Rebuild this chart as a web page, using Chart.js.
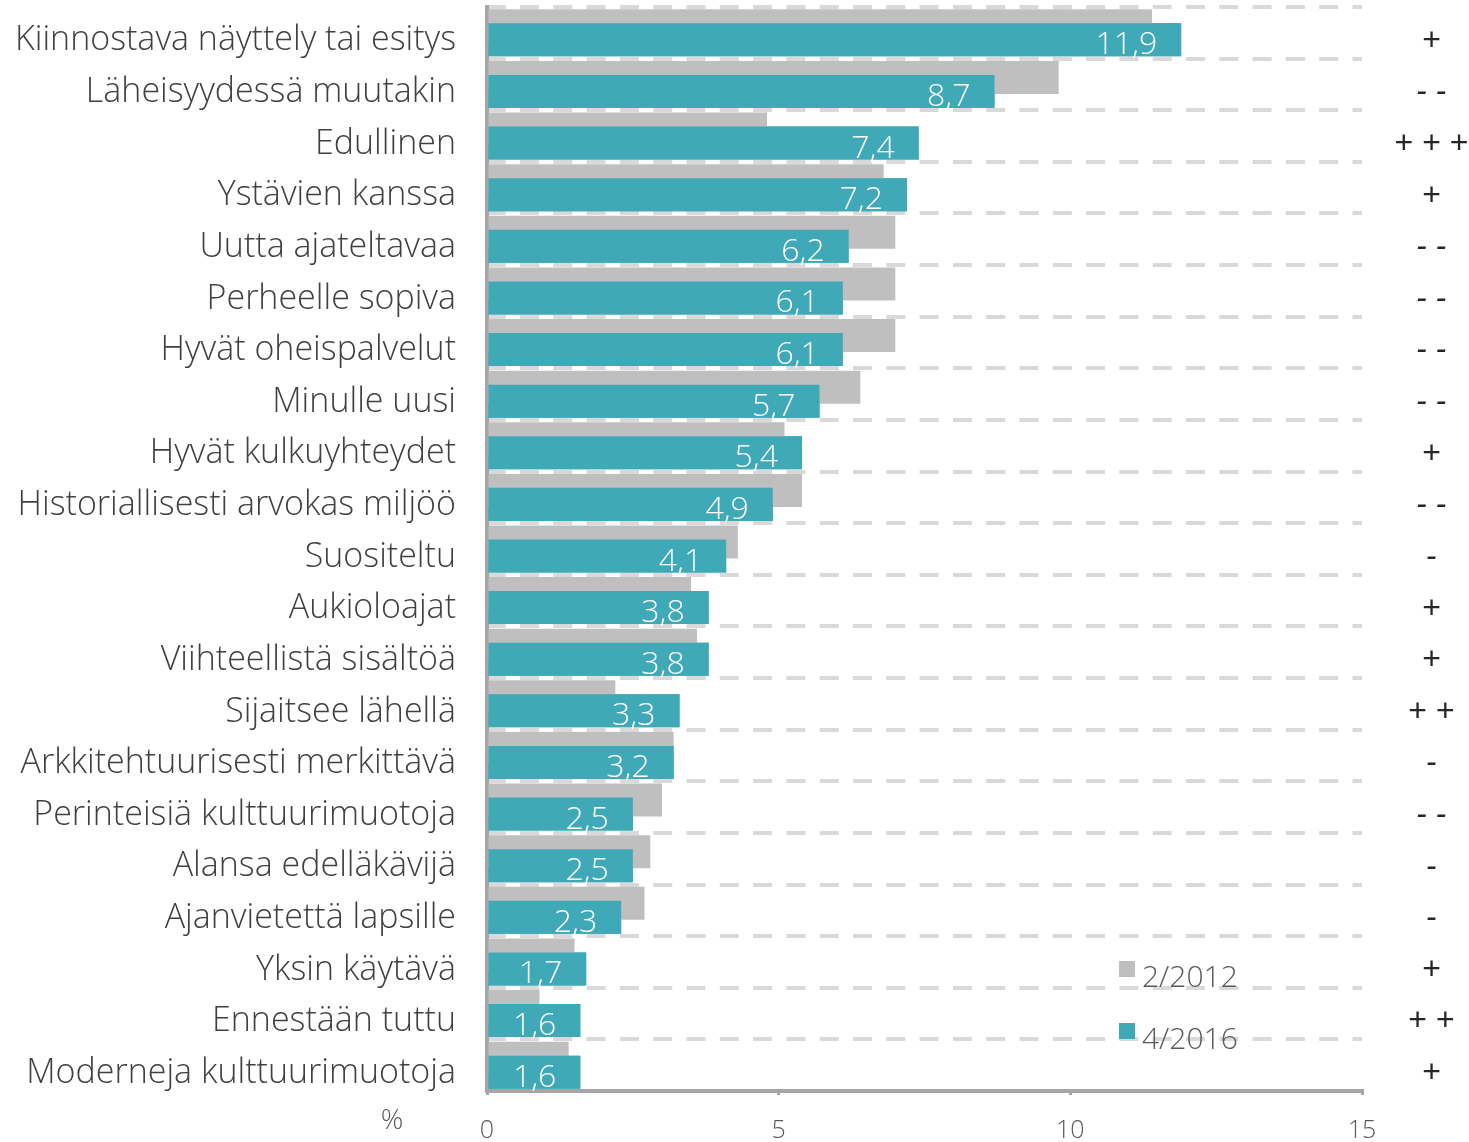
<!DOCTYPE html>
<html>
<head>
<meta charset="utf-8">
<script src="https://cdn.jsdelivr.net/npm/chart.js@4.4.1/dist/chart.umd.min.js"></script>
<style>
  html, body { margin: 0; padding: 0; background: #fff; }
  #wrap { width: 1469px; height: 1142px; }
</style>
</head>
<body>
<div id="wrap"><canvas id="chart"></canvas></div>
<script>
// DATA
const categories = [
  "Kiinnostava näyttely tai esitys",
  "Läheisyydessä muutakin",
  "Edullinen",
  "Ystävien kanssa",
  "Uutta ajateltavaa",
  "Perheelle sopiva",
  "Hyvät oheispalvelut",
  "Minulle uusi",
  "Hyvät kulkuyhteydet",
  "Historiallisesti arvokas miljöö",
  "Suositeltu",
  "Aukioloajat",
  "Viihteellistä sisältöä",
  "Sijaitsee lähellä",
  "Arkkitehtuurisesti merkittävä",
  "Perinteisiä kulttuurimuotoja",
  "Alansa edelläkävijä",
  "Ajanvietettä lapsille",
  "Yksin käytävä",
  "Ennestään tuttu",
  "Moderneja kulttuurimuotoja",
];

const values2012 = [
  11.4, 9.8, 4.8, 6.8, 7.0, 7.0, 7.0, 6.4, 5.1, 5.4, 4.3, 3.5, 3.6, 2.2, 3.2,
  3.0, 2.8, 2.7, 1.5, 0.9, 1.4,
];

const values2016 = [
  11.9, 8.7, 7.4, 7.2, 6.2, 6.1, 6.1, 5.7, 5.4, 4.9, 4.1, 3.8, 3.8, 3.3, 3.2,
  2.5, 2.5, 2.3, 1.7, 1.6, 1.6,
];

const changeSigns = [
  "+", "- -", "+ + +", "+", "- -", "- -", "- -", "- -", "+", "- -", "-",
  "+", "+", "+ +", "-", "- -", "-", "-", "+", "+ +", "+",
];

const seriesNames = ["2/2012", "4/2016"];
const xTicks = [0, 5, 10, 15];
const unitLabel = "%";

const FONT = "'Open Sans', 'Noto Sans', sans-serif";
const GRAY = "#bfbfbf";
const TEAL = "#3fa9b8";

// extra drawing: teal in front, value labels, signs, legend
const extras = {
  id: "extras",
  afterDatasetsDraw(chart) {
    const ctx = chart.ctx;
    const area = chart.chartArea;
    const yScale = chart.scales.y;
    const front = chart.getDatasetMeta(1);

    ctx.save();
    front.data.forEach((bar) => bar.draw(ctx));

    // value labels
    ctx.fillStyle = "#ffffff";
    ctx.font = "300 32px " + FONT;
    ctx.textAlign = "right";
    ctx.textBaseline = "alphabetic";
    front.data.forEach((bar, i) => {
      const p = bar.getProps(["x", "y", "height"], true);
      const txt = values2016[i].toFixed(1).replace(".", ",");
      ctx.fillText(txt, p.x - 24, p.y + p.height / 2 - 2);
    });

    // change signs on the right
    ctx.fillStyle = "#262626";
    ctx.font = "italic 32px 'Liberation Sans', sans-serif";
    ctx.textAlign = "center";
    ctx.textBaseline = "middle";
    changeSigns.forEach((s, i) => {
      ctx.fillText(s, area.right + 69, yScale.getPixelForValue(i) + 8);
    });

    // unit label
    ctx.fillStyle = "#595959";
    ctx.font = "300 28px " + FONT;
    ctx.fillText(unitLabel, area.left - 95, area.bottom + 30);

    // legend
    ctx.textAlign = "left";
    ctx.textBaseline = "alphabetic";
    ctx.font = "300 30px " + FONT;
    chart.data.datasets.forEach((ds, i) => {
      const top = area.bottom - 130 + i * 62;
      ctx.fillStyle = ds.backgroundColor;
      ctx.fillRect(area.left + 632, top, 16, 16);
      ctx.fillStyle = "#595959";
      ctx.fillText(ds.label, area.left + 655, top + 26);
    });
    ctx.restore();
  },
};

const ctx = document.getElementById("chart");

new Chart(ctx, {
  type: "bar",

  data: {
    labels: categories,

    datasets: [
      {
        label: seriesNames[0],
        data: values2012,
        backgroundColor: GRAY,
        categoryPercentage: 0.542,
        barPercentage: 2.36,
      },
      {
        label: seriesNames[1],
        data: values2016,
        backgroundColor: TEAL,
        categoryPercentage: 0.542,
        barPercentage: 2.36,
      },
    ],
  },

  options: {
    indexAxis: "y",
    responsive: true,
    maintainAspectRatio: false,
    animation: false,

    layout: {
      padding: { top: 7, right: 107, bottom: 0, left: 0 },
    },

    plugins: {
      legend: { display: false },
      tooltip: { enabled: false },
    },

    scales: {
      x: {
        min: 0,
        max: 15,
        afterBuildTicks: (s) => {
          s.ticks = xTicks.map((v) => ({ value: v }));
        },
        ticks: {
          color: "#595959",
          font: { family: FONT, size: 25, weight: 300 },
          padding: 21,
        },
        grid: {
          drawOnChartArea: false,
          drawTicks: true,
          tickLength: 4,
          color: "#a6a6a6",
          lineWidth: 3,
        },
        border: { color: "#a6a6a6", width: 4 },
        afterFit: (s) => {
          s.height = 51;
          s.paddingLeft = 0;
          s.paddingRight = 0;
        },
      },

      y: {
        grid: {
          offset: true,
          drawTicks: false,
          color: "#d9d9d9",
          lineWidth: 4,
        },
        border: {
          color: "#a6a6a6",
          width: 4,
          dash: [19, 14.3],
          dashOffset: 2.3,
        },
        ticks: {
          autoSkip: false,
          color: "#404040",
          font: { family: FONT, size: 34, weight: 300 },
          padding: 31,
          labelOffset: 8,
        },
        afterFit: (s) => {
          s.width = 487;
          s.paddingTop = 0;
          s.paddingBottom = 0;
        },
      },
    },
  },

  plugins: [extras],
});
</script>
</body>
</html>
